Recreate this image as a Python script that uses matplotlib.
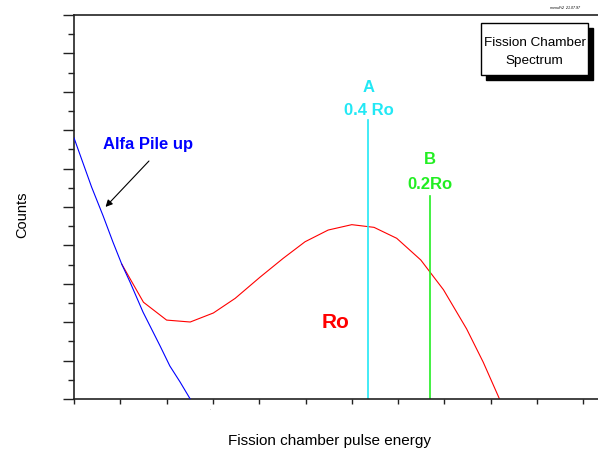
import matplotlib
matplotlib.use("Agg")
import matplotlib.pyplot as plt
from matplotlib.patches import Rectangle

plt.rcParams['font.family'] = ['Liberation Sans', 'DejaVu Sans']

# Data (x in tick units of energy, y in tick units of counts)
alfa_x = [0.0, 0.38, 0.63, 0.84, 1.03, 1.21, 1.49, 1.86, 2.07, 2.29, 2.51]
alfa_y = [13.6, 11.04, 9.53, 8.18, 7.03, 6.09, 4.53, 2.76, 1.72, 0.89, 0.0]

ro_x = [1.03, 1.50, 2.00, 2.51, 3.01, 3.48, 4.02, 4.52, 4.99, 5.49, 6.00,
        6.48, 6.97, 7.49, 7.98, 8.48, 8.84, 9.19]
ro_y = [7.03, 5.04, 4.11, 4.01, 4.48, 5.24, 6.35, 7.33, 8.19, 8.80, 9.08,
        8.94, 8.37, 7.24, 5.69, 3.65, 1.91, 0.0]

line_a_x = 6.36
line_a_top = 14.53
line_b_x = 7.69
line_b_top = 10.59

fig = plt.figure(figsize=(5.98, 4.52), dpi=100)
ax = fig.add_axes([74/598, 52/452, 524/598, 384/452])
ax.set_xlim(0, 524/46.3)
ax.set_ylim(0, 20)

ax.plot(ro_x, ro_y, color='#ff0000', lw=0.8, zorder=2)
ax.plot(alfa_x, alfa_y, color='#0000ff', lw=0.8, zorder=3)
ax.plot([line_a_x, line_a_x], [0, line_a_top], color='#22e8f5', lw=1.2)
ax.plot([line_b_x, line_b_x], [0, line_b_top], color='#22ee22', lw=1.2)

ax.text(line_a_x, 16.25, 'A', color='#22e8f5', fontsize=12, fontweight='bold', ha='center', va='center')
ax.text(line_a_x, 15.1, '0.4 Ro', color='#22e8f5', fontsize=12, fontweight='bold', ha='center', va='center')
ax.text(line_b_x, 12.5, 'B', color='#22ee22', fontsize=12, fontweight='bold', ha='center', va='center')
ax.text(line_b_x, 11.2, '0.2Ro', color='#22ee22', fontsize=12, fontweight='bold', ha='center', va='center')
ax.text(5.64, 4.03, 'Ro', color='#ff0000', fontsize=15, fontweight='bold', ha='center', va='center')
ax.text(1.6, 13.33, 'Alfa Pile up', color='#0000ff', fontsize=12, fontweight='bold', ha='center', va='center')
ax.annotate('', xy=(0.64, 9.9), xytext=(1.66, 12.5),
            arrowprops=dict(arrowstyle='-|>', color='black', lw=0.8, mutation_scale=10))

ax.set_xticks([i for i in range(12)])
ax.set_xticklabels([])
ax.set_yticks(list(range(0, 21, 2)))
ax.set_yticks(list(range(1, 20, 2)), minor=True)
ax.set_yticklabels([])
ax.tick_params(axis='y', which='major', direction='out', length=8, width=1, color='#222222')
ax.tick_params(axis='y', which='minor', direction='out', length=4, width=1, color='#222222')
ax.tick_params(axis='x', which='major', direction='out', length=3.5, width=1, color='#222222')
ax.spines['right'].set_visible(False)
for s in ['left', 'bottom', 'top']:
    ax.spines[s].set_color('#222222')
    ax.spines[s].set_linewidth(1.2)

fig.text(22/598, 1 - 215/452, 'Counts', rotation=90, fontsize=10.5, ha='center', va='center')
fig.text(330/598, 1 - 441/452, 'Fission chamber pulse energy', fontsize=11, ha='center', va='center')
fig.text(210/598, 1 - 409/452, '.', fontsize=3, ha='center', va='center')
fig.text(565/598, 1 - 8/452, 'menuFi2  21.07.97', fontsize=2.6, ha='center', va='center', style='italic')

# Title box with shadow
bx0, by0, bw, bh = 481/598, 1 - 76/452, 107/598, 52/452
fig.patches.append(Rectangle((bx0 + 4.5/598, by0 - 4.5/452), bw, bh, transform=fig.transFigure,
                             facecolor='black', edgecolor='black', zorder=5))
fig.patches.append(Rectangle((bx0, by0), bw, bh, transform=fig.transFigure,
                             facecolor='white', edgecolor='black', lw=1.0, zorder=6))
fig.text(bx0 + bw/2, by0 + bh/2 - 2/452, 'Fission Chamber\nSpectrum', fontsize=9.7, ha='center', va='center',
         linespacing=1.75, zorder=7)

fig.savefig('out.png', dpi=100)
